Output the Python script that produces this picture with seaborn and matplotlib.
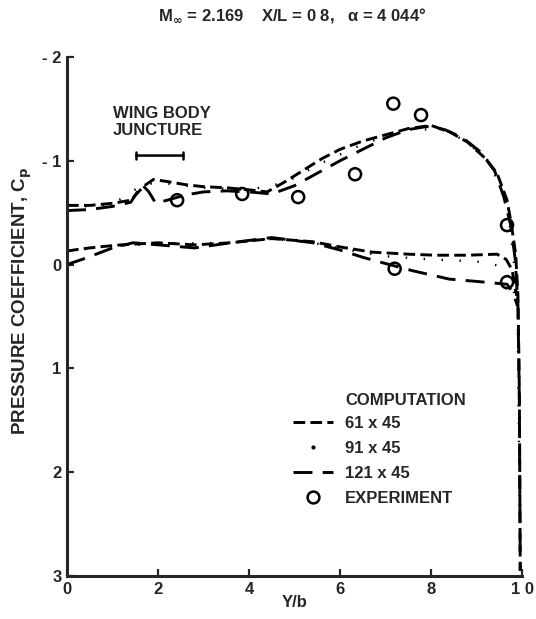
import numpy as np
import pandas as pd
import matplotlib
matplotlib.use("Agg")
import matplotlib.pyplot as plt
from matplotlib.lines import Line2D
import seaborn as sns

# --- DATA ---
# upper surface, 61 x 45
xu_61 = [0.0, 0.05, 0.10, 0.14, 0.17, 0.19, 0.22, 0.26, 0.30, 0.35, 0.40, 0.44, 0.48, 0.52,
         0.56, 0.60, 0.65, 0.70, 0.75, 0.80, 0.84, 0.88, 0.92, 0.945, 0.967, 0.976, 0.986,
         0.991, 0.994, 0.996]
cpu_61 = [-0.57, -0.57, -0.59, -0.62, -0.76, -0.82, -0.80, -0.77, -0.75, -0.74, -0.72, -0.70,
          -0.80, -0.91, -1.02, -1.11, -1.19, -1.25, -1.31, -1.34, -1.28, -1.18, -1.02, -0.88,
          -0.62, -0.40, -0.10, 0.30, 1.20, 2.95]
# upper surface, 121 x 45
xu_121 = [0.0, 0.05, 0.10, 0.14, 0.165, 0.18, 0.195, 0.22, 0.26, 0.30, 0.35, 0.40, 0.45, 0.50,
          0.55, 0.60, 0.65, 0.70, 0.75, 0.79, 0.83, 0.87, 0.91, 0.94, 0.96, 0.975, 0.985,
          0.991, 0.994, 0.996]
cpu_121 = [-0.52, -0.53, -0.56, -0.60, -0.77, -0.70, -0.59, -0.62, -0.67, -0.70, -0.71, -0.70,
           -0.68, -0.76, -0.88, -1.00, -1.11, -1.22, -1.30, -1.33, -1.30, -1.22, -1.08, -0.90,
           -0.65, -0.38, -0.05, 0.40, 1.30, 2.95]
# lower surface, 61 x 45
xl_61 = [0.0, 0.03, 0.07, 0.12, 0.20, 0.28, 0.36, 0.45, 0.54, 0.60, 0.67, 0.75, 0.81, 0.88,
         0.945, 0.965, 0.978, 0.988]
cpl_61 = [-0.13, -0.15, -0.17, -0.19, -0.21, -0.19, -0.21, -0.25, -0.22, -0.17, -0.12, -0.10,
          -0.09, -0.09, -0.10, -0.05, 0.05, 0.30]
# lower surface, 121 x 45
xl_121 = [0.0, 0.04, 0.10, 0.145, 0.20, 0.28, 0.36, 0.45, 0.54, 0.60, 0.65, 0.70, 0.76, 0.84,
          0.92, 0.967, 0.98, 0.99]
cpl_121 = [0.0, -0.06, -0.16, -0.21, -0.19, -0.16, -0.21, -0.26, -0.21, -0.14, -0.07, -0.01,
           0.06, 0.14, 0.17, 0.19, 0.27, 0.40]
# 91 x 45 (dots, mostly hidden under the other curves)
xu_91 = [0.0, 0.10, 0.17, 0.22, 0.30, 0.40, 0.48, 0.56, 0.65, 0.75, 0.84, 0.92, 0.967, 0.99, 0.996]
cpu_91 = [-0.55, -0.58, -0.78, -0.78, -0.74, -0.72, -0.79, -0.98, -1.16, -1.31, -1.29, -1.04,
          -0.63, 0.30, 2.95]
xl_91 = [0.0, 0.07, 0.20, 0.36, 0.45, 0.54, 0.62, 0.70, 0.80, 0.90, 0.96, 0.985]
cpl_91 = [-0.12, -0.17, -0.20, -0.21, -0.25, -0.21, -0.14, -0.08, -0.05, -0.03, 0.02, 0.30]
# experiment
x_exp = [0.242, 0.385, 0.508, 0.633, 0.717, 0.778, 0.967, 0.72, 0.967]
cp_exp = [-0.62, -0.68, -0.65, -0.87, -1.55, -1.44, -0.38, 0.04, 0.17]

x_ticks = [0.0, 0.2, 0.4, 0.6, 0.8, 1.0]
x_ticklabels = ["0", "2", "4", "6", "8", "1 0"]
y_ticks = [-2, -1, 0, 1, 2, 3]
y_ticklabels = ["- 2", "- 1", "0", "1", "2", "3"]

sns.set_style("ticks")
plt.rcParams["font.family"] = ["Liberation Sans", "DejaVu Sans"]
plt.rcParams["font.weight"] = "bold"

fig = plt.figure(figsize=(5.36, 6.19), dpi=100)
ax = fig.add_axes([0.125, 0.0695, 0.849, 0.8385])

dash61 = (0, (4, 1.8))
dash121 = (0, (6.5, 3.5))
dot91 = (0, (0.6, 7))
lw = 2.1

for xs, ys in [(xu_61, cpu_61), (xl_61, cpl_61)]:
    sns.lineplot(x=xs, y=ys, ax=ax, sort=False, estimator=None, color="black",
                 lw=lw, linestyle=dash61)
for xs, ys in [(xu_121, cpu_121), (xl_121, cpl_121)]:
    sns.lineplot(x=xs, y=ys, ax=ax, sort=False, estimator=None, color="black",
                 lw=lw, linestyle=dash121)
for xs, ys in [(xu_91, cpu_91), (xl_91, cpl_91)]:
    sns.lineplot(x=xs, y=ys, ax=ax, sort=False, estimator=None, color="black",
                 lw=1.7, linestyle=dot91)

exp_df = pd.DataFrame({"x": x_exp, "cp": cp_exp})
sns.scatterplot(data=exp_df, x="x", y="cp", ax=ax, marker="o", s=75,
                facecolors="none", edgecolor="black", linewidth=1.8, zorder=5)

ax.set_xlim(0, 1.0)
ax.set_ylim(3, -2)
ax.set_xticks(x_ticks)
ax.set_xticklabels(x_ticklabels)
ax.set_yticks(y_ticks)
ax.set_yticklabels(y_ticklabels)
ax.tick_params(direction="in", length=5, width=1.6, labelsize=12, pad=4)
for lab in ax.get_xticklabels() + ax.get_yticklabels():
    lab.set_fontweight("bold")
sns.despine(ax=ax)
for sp in ["left", "bottom"]:
    ax.spines[sp].set_linewidth(2.2)

ax.set_xlabel("Y/b", fontsize=12, fontweight="bold", labelpad=-1)
ax.set_ylabel("PRESSURE COEFFICIENT, C$_\\mathbf{p}$", fontsize=13.5, fontweight="bold")
ax.yaxis.set_label_coords(-0.072, 0.53)

fig.text(0.545, 0.975, "M$_{\\infty}$ = 2.169    X/L = 0 8,   \u03b1 = 4 044\u00b0",
         ha="center", va="center", fontsize=12, fontweight="bold")

# wing body juncture bracket
ax.annotate("", xy=(0.152, -1.05), xytext=(0.256, -1.05),
            arrowprops=dict(arrowstyle="|-|,widthA=0.25,widthB=0.25", lw=1.8, color="black",
                            shrinkA=0, shrinkB=0))
ax.text(0.101, -1.37, "WING BODY\nJUNCTURE", ha="left", va="center", fontsize=12,
        fontweight="bold", linespacing=1.15)

# legend
ax.text(0.611, 1.31, "COMPUTATION", ha="left", va="center", fontsize=12, fontweight="bold")
handles = [
    Line2D([], [], color="black", lw=lw, linestyle=dash61),
    Line2D([], [], color="black", lw=0, marker=".", markersize=4),
    Line2D([], [], color="black", lw=lw, linestyle=dash121),
    Line2D([], [], color="black", lw=0, marker="o", markersize=8.5,
           markerfacecolor="none", markeredgewidth=1.8),
]
labels = ["61 x 45", "91 x 45", "121 x 45", "EXPERIMENT"]
ax.legend(handles, labels, loc="upper left", bbox_to_anchor=(0.497, 0.309), frameon=False,
          handlelength=2.4, handletextpad=0.72, labelspacing=0.6, borderpad=0,
          borderaxespad=0, prop={"size": 12, "weight": "bold"})

fig.savefig("out.png", dpi=100)
